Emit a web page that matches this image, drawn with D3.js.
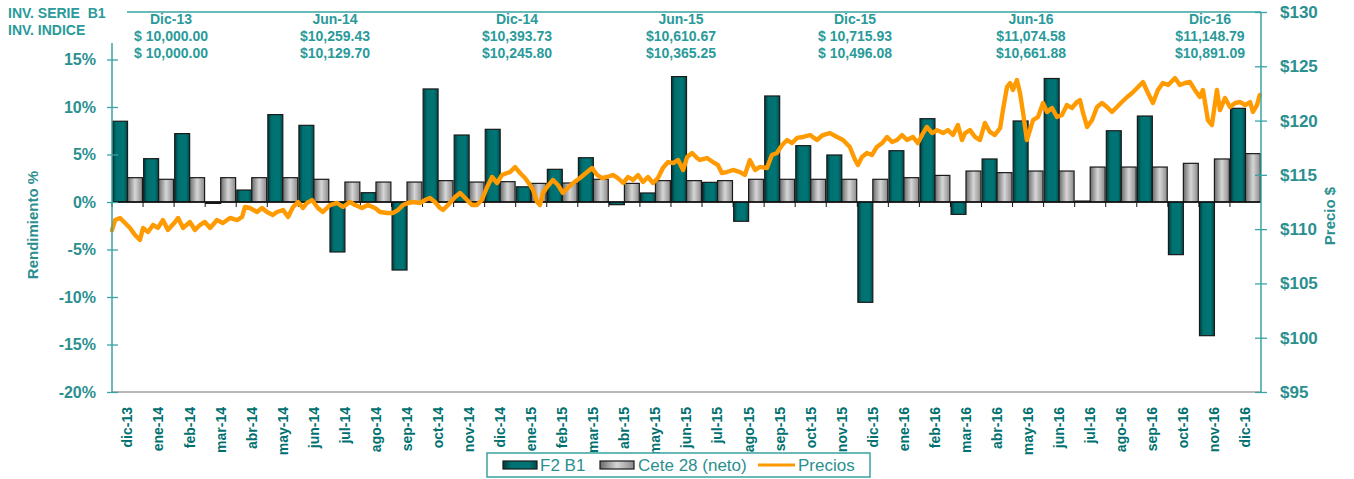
<!DOCTYPE html>
<html>
<head>
<meta charset="utf-8">
<script src="https://cdn.jsdelivr.net/npm/d3@7"></script>
<style>
  html, body { margin: 0; padding: 0; background: #fff; }
  svg { display: block; font-family: "Liberation Sans", Arial, sans-serif; }
</style>
</head>
<body>
<div id="chart"></div>
<script>
// months on the x axis
const categories = ['dic-13', 'ene-14', 'feb-14', 'mar-14', 'abr-14', 'may-14', 'jun-14', 'jul-14',
  'ago-14', 'sep-14', 'oct-14', 'nov-14', 'dic-14', 'ene-15', 'feb-15', 'mar-15', 'abr-15', 'may-15',
  'jun-15', 'jul-15', 'ago-15', 'sep-15', 'oct-15', 'nov-15', 'dic-15', 'ene-16', 'feb-16', 'mar-16',
  'abr-16', 'may-16', 'jun-16', 'jul-16', 'ago-16', 'sep-16', 'oct-16', 'nov-16', 'dic-16'];

// monthly returns, % (left axis)
const f2b1 = [8.5, 4.56, 7.2, -0.15, 1.26, 9.2, 8.07, -5.26, 0.98, -7.16, 11.9, 7.05,
  7.65, 1.6, 3.44, 4.66, -0.28, 0.95, 13.2, 2.07, -2.03, 11.16, 5.93, 4.95,
  -10.56, 5.4, 8.77, -1.3, 4.53, 8.53, 13.0, 0.1, 7.5, 9.05, -5.54, -14.07, 9.86];

const cete28 = [2.56, 2.39, 2.56, 2.56, 2.56, 2.56, 2.39, 2.1, 2.1, 2.1, 2.25, 2.1,
  2.14, 1.96, 2.0, 2.39, 1.96, 2.25, 2.25, 2.25, 2.39, 2.39, 2.39, 2.39,
  2.39, 2.56, 2.8, 3.26, 3.09, 3.26, 3.26, 3.68, 3.68, 3.68, 4.07, 4.53, 5.09];

// price series: [position in months from start, price $] (right axis)
const precios = [[0,109.9],[0.10,110.84],[0.26,111.03],[0.42,110.57],[0.58,110.11],[0.74,109.46],[0.90,109.0],[1.00,110.11],[1.16,109.74],[1.32,110.38],[1.48,110.11],[1.64,110.84],[1.80,109.92],[2.03,110.66],[2.13,111.03],[2.29,110.11],[2.51,110.66],[2.67,109.92],[2.83,110.38],[2.99,110.66],[3.16,110.11],[3.38,110.84],[3.57,110.57],[3.80,111.03],[4.03,110.84],[4.19,111.12],[4.28,112.04],[4.44,111.95],[4.67,111.58],[4.83,111.95],[4.99,111.58],[5.18,111.30],[5.31,111.58],[5.51,111.76],[5.67,111.12],[5.83,112.04],[5.99,112.5],[6.15,111.95],[6.28,112.41],[6.44,112.68],[6.63,111.95],[6.79,111.58],[7.02,112.22],[7.25,112.41],[7.44,112.04],[7.66,112.5],[7.83,112.22],[8.05,111.95],[8.24,112.22],[8.47,111.95],[8.63,111.58],[8.86,111.49],[9.05,111.49],[9.21,111.76],[9.37,112.22],[9.53,112.41],[9.69,112.5],[9.92,112.41],[10.08,112.68],[10.24,112.87],[10.40,112.5],[10.56,111.95],[10.66,111.76],[10.82,112.22],[11.05,112.96],[11.21,113.33],[11.37,112.87],[11.59,112.22],[11.75,112.22],[11.91,112.68],[12.08,113.88],[12.24,114.80],[12.40,114.25],[12.56,114.99],[12.72,115.17],[12.82,115.26],[12.98,115.72],[13.14,115.17],[13.30,114.71],[13.46,114.07],[13.56,113.61],[13.69,112.5],[13.78,112.22],[13.88,113.33],[14.01,113.88],[14.20,114.53],[14.36,114.07],[14.52,113.33],[14.68,113.79],[14.85,114.25],[15.07,114.71],[15.30,115.26],[15.46,115.63],[15.62,114.99],[15.78,114.71],[15.94,114.80],[16.13,114.99],[16.29,114.71],[16.46,114.25],[16.62,114.80],[16.78,114.53],[16.94,114.99],[17.10,114.34],[17.26,114.80],[17.42,114.25],[17.58,114.71],[17.74,115.63],[17.90,116.18],[18.07,116.09],[18.23,116.37],[18.39,115.45],[18.52,116.64],[18.68,117.01],[18.84,116.55],[18.93,116.37],[19.16,116.55],[19.35,116.18],[19.51,115.91],[19.64,115.17],[19.80,115.26],[20.0,115.45],[20.22,115.26],[20.38,114.99],[20.54,116.37],[20.71,115.45],[20.87,115.73],[21.09,115.63],[21.25,116.83],[21.41,117.01],[21.58,117.75],[21.74,118.21],[21.90,117.93],[22.06,118.40],[22.25,118.49],[22.48,118.67],[22.70,118.21],[22.89,118.67],[23.12,118.85],[23.35,118.49],[23.54,118.21],[23.76,117.57],[23.93,116.37],[24.02,115.91],[24.15,116.64],[24.31,117.01],[24.47,116.83],[24.63,117.57],[24.80,117.93],[24.96,118.49],[25.12,118.03],[25.28,118.21],[25.44,118.67],[25.60,118.21],[25.79,118.49],[25.95,117.93],[26.12,118.85],[26.24,119.41],[26.41,118.85],[26.57,119.12],[26.76,118.85],[26.92,119.12],[27.08,118.67],[27.24,119.59],[27.37,118.21],[27.47,118.85],[27.63,119.12],[27.79,118.49],[27.95,118.21],[28.11,119.78],[28.27,118.95],[28.43,118.67],[28.60,119.32],[28.69,120.97],[28.82,123.09],[28.92,123.46],[29.01,122.82],[29.14,123.74],[29.24,122.54],[29.34,120.70],[29.46,118.21],[29.56,119.13],[29.66,120.05],[29.82,120.33],[29.98,121.62],[30.11,120.79],[30.27,121.16],[30.43,120.33],[30.59,120.51],[30.75,121.43],[30.91,121.16],[31.07,121.71],[31.17,121.89],[31.27,120.70],[31.40,119.41],[31.56,120.05],[31.72,121.25],[31.88,121.62],[32.04,121.25],[32.20,120.79],[32.36,121.25],[32.52,121.71],[32.69,122.17],[32.85,122.54],[33.01,123.0],[33.20,123.55],[33.36,122.54],[33.52,121.62],[33.68,122.82],[33.84,123.46],[34.01,123.28],[34.23,123.92],[34.39,123.28],[34.55,123.46],[34.71,123.55],[34.87,122.82],[35.03,122.17],[35.13,122.82],[35.29,120.05],[35.42,119.59],[35.58,122.82],[35.68,120.97],[35.84,122.08],[36.0,121.25],[36.17,121.62],[36.33,121.71],[36.49,121.43],[36.65,121.71],[36.74,120.79],[36.87,121.43],[36.96,122.36]];

// header table
const headerDates = ['Dic-13', 'Jun-14', 'Dic-14', 'Jun-15', 'Dic-15', 'Jun-16', 'Dic-16'];
const headerSerie = ['$ 10,000.00', '$10,259.43', '$10,393.73', '$10,610.67', '$ 10,715.93', '$11,074.58', '$11,148.79'];
const headerIndice = ['$ 10,000.00', '$10,129.70', '$10,245.80', '$10,365.25', '$ 10,496.08', '$10,661.88', '$10,891.09'];

const leftTicks = [-20, -15, -10, -5, 0, 5, 10, 15];
const rightTicks = [95, 100, 105, 110, 115, 120, 125, 130];

(function () {
  const W = 1354, H = 479;
  const plot = { left: 112, right: 1261, top: 12, bottom: 392 };
  const teal = '#007070';
  const labelTeal = '#2b8f8f';
  const headTeal = '#2a9a9a';
  const axisTeal = '#3aa3a3';
  const orange = '#ff9a00';

  const svg = d3.select('#chart').append('svg')
    .attr('width', W).attr('height', H);

  svg.append('rect').attr('width', W).attr('height', H).attr('fill', '#fff');

  const defs = svg.append('defs');
  const gTeal = defs.append('linearGradient').attr('id', 'gTeal').attr('x1', 0).attr('x2', 1).attr('y1', 0).attr('y2', 0);
  gTeal.append('stop').attr('offset', '0%').attr('stop-color', '#003c3c');
  gTeal.append('stop').attr('offset', '25%').attr('stop-color', '#007070');
  gTeal.append('stop').attr('offset', '75%').attr('stop-color', '#007575');
  gTeal.append('stop').attr('offset', '100%').attr('stop-color', '#004a4a');
  const gGray = defs.append('linearGradient').attr('id', 'gGray').attr('x1', 0).attr('x2', 1).attr('y1', 0).attr('y2', 0);
  gGray.append('stop').attr('offset', '0%').attr('stop-color', '#6a6a6a');
  gGray.append('stop').attr('offset', '50%').attr('stop-color', '#d6d6d6');
  gGray.append('stop').attr('offset', '100%').attr('stop-color', '#8a8a8a');

  // scales
  const x = d3.scaleBand().domain(categories).range([plot.left, plot.right]).padding(0);
  const xIn = d3.scaleBand().domain(['f2', 'cete']).range([0, x.bandwidth()]).paddingInner(0).paddingOuter(0.04);
  const yL = d3.scaleLinear().domain([-20, 20]).range([plot.bottom, plot.top]);
  const yR = d3.scaleLinear().domain([95, 130]).range([plot.bottom, plot.top]);
  const xT = d3.scaleLinear().domain([0, categories.length]).range([plot.left, plot.right]);

  // frame lines
  svg.append('line')
    .attr('x1', plot.left).attr('x2', plot.right)
    .attr('y1', plot.bottom).attr('y2', plot.bottom)
    .attr('stroke', '#a0a0a0').attr('stroke-width', 1.5);
  svg.append('line')
    .attr('x1', 127).attr('x2', plot.right)
    .attr('y1', plot.top).attr('y2', plot.top)
    .attr('stroke', axisTeal).attr('stroke-width', 1.5);

  // bars
  const bars = svg.append('g');
  bars.selectAll('rect.f2')
    .data(categories)
    .enter().append('rect')
    .attr('class', 'f2')
    .attr('x', (d) => x(d) + xIn('f2'))
    .attr('width', xIn.bandwidth())
    .attr('y', (d, i) => yL(Math.max(0, f2b1[i])))
    .attr('height', (d, i) => Math.abs(yL(f2b1[i]) - yL(0)))
    .attr('fill', 'url(#gTeal)')
    .attr('stroke', '#1a1a1a').attr('stroke-width', 1.2);

  bars.selectAll('rect.cete')
    .data(categories)
    .enter().append('rect')
    .attr('class', 'cete')
    .attr('x', (d) => x(d) + xIn('cete'))
    .attr('width', xIn.bandwidth())
    .attr('y', (d, i) => yL(Math.max(0, cete28[i])))
    .attr('height', (d, i) => Math.abs(yL(cete28[i]) - yL(0)))
    .attr('fill', 'url(#gGray)')
    .attr('stroke', '#1a1a1a').attr('stroke-width', 1.2);

  // zero line with category ticks
  svg.append('line')
    .attr('x1', plot.left).attr('x2', plot.right)
    .attr('y1', yL(0)).attr('y2', yL(0))
    .attr('stroke', '#111').attr('stroke-width', 1.5);
  svg.append('g').selectAll('line')
    .data(categories)
    .enter().append('line')
    .attr('x1', (d) => x(d)).attr('x2', (d) => x(d))
    .attr('y1', yL(0)).attr('y2', yL(0) + 5)
    .attr('stroke', '#111').attr('stroke-width', 1);

  // price line on top
  const line = d3.line()
    .x((d) => xT(d[0]))
    .y((d) => yR(d[1]))
    .curve(d3.curveLinear);
  svg.append('path')
    .datum(precios)
    .attr('d', line)
    .attr('fill', 'none')
    .attr('stroke', orange)
    .attr('stroke-width', 4.4)
    .attr('stroke-linejoin', 'round')
    .attr('stroke-linecap', 'round');

  // left axis
  svg.append('line')
    .attr('x1', plot.left).attr('x2', plot.left)
    .attr('y1', 43).attr('y2', plot.bottom)
    .attr('stroke', axisTeal).attr('stroke-width', 1.5);
  svg.append('g')
    .attr('transform', `translate(${plot.left},0)`)
    .call(d3.axisLeft(yL).tickValues(leftTicks).tickFormat((d) => d + '%').tickSizeInner(5).tickSizeOuter(0).tickPadding(11))
    .call((g) => g.select('.domain').remove())
    .call((g) => g.selectAll('line').attr('x1', 6).attr('stroke', axisTeal).attr('stroke-width', 1.3))
    .call((g) => g.selectAll('text')
      .attr('fill', labelTeal).attr('font-size', 16).attr('font-weight', 'bold')
      .attr('font-family', '"Liberation Sans", Arial, sans-serif'));

  // right axis
  svg.append('line')
    .attr('x1', plot.right).attr('x2', plot.right)
    .attr('y1', plot.top).attr('y2', plot.bottom)
    .attr('stroke', axisTeal).attr('stroke-width', 1.5);
  svg.append('g')
    .attr('transform', `translate(${plot.right},0)`)
    .call(d3.axisRight(yR).tickValues(rightTicks).tickFormat((d) => '$' + d).tickSizeInner(6).tickSizeOuter(0).tickPadding(13))
    .call((g) => g.select('.domain').remove())
    .call((g) => g.selectAll('line').attr('x1', -6).attr('stroke', axisTeal).attr('stroke-width', 1.3))
    .call((g) => g.selectAll('text')
      .attr('fill', labelTeal).attr('font-size', 17).attr('font-weight', 'bold')
      .attr('font-family', '"Liberation Sans", Arial, sans-serif'));

  // bottom month labels
  svg.append('g')
    .attr('transform', `translate(0,${plot.bottom})`)
    .call(d3.axisBottom(x).tickSize(0))
    .call((g) => g.select('.domain').remove())
    .call((g) => g.selectAll('text')
      .attr('transform', 'rotate(-90)')
      .attr('x', -15).attr('y', 0).attr('dy', '0.35em')
      .attr('text-anchor', 'end')
      .attr('fill', teal).attr('font-size', 14).attr('font-weight', 'bold')
      .attr('font-family', '"Liberation Sans", Arial, sans-serif'));

  // axis titles
  svg.append('text')
    .attr('transform', 'translate(38,225) rotate(-90)')
    .attr('text-anchor', 'middle')
    .attr('fill', labelTeal).attr('font-size', 15).attr('font-weight', 'bold')
    .text('Rendimiento %');
  svg.append('text')
    .attr('transform', 'translate(1335,216) rotate(-90)')
    .attr('text-anchor', 'middle')
    .attr('fill', labelTeal).attr('font-size', 15).attr('font-weight', 'bold')
    .text('Precio $');

  // header table
  svg.append('text').attr('x', 8).attr('y', 18)
    .attr('fill', headTeal).attr('font-size', 14).attr('font-weight', 'bold')
    .attr('xml:space', 'preserve').style('white-space', 'pre')
    .text('INV. SERIE  B1');
  svg.append('text').attr('x', 8).attr('y', 35)
    .attr('fill', headTeal).attr('font-size', 14).attr('font-weight', 'bold')
    .text('INV. INDICE');

  const headerX = [171, 335, 517, 681, 855, 1031, 1210];
  const head = svg.append('g').attr('font-size', 14).attr('font-weight', 'bold')
    .attr('fill', headTeal).attr('text-anchor', 'middle');
  head.selectAll('text.d').data(headerDates).enter().append('text')
    .attr('x', (d, i) => headerX[i]).attr('y', 24).text((d) => d);
  head.selectAll('text.s').data(headerSerie).enter().append('text')
    .attr('x', (d, i) => headerX[i]).attr('y', 41).text((d) => d);
  head.selectAll('text.n').data(headerIndice).enter().append('text')
    .attr('x', (d, i) => headerX[i]).attr('y', 58).text((d) => d);

  // legend
  const lg = svg.append('g').attr('transform', 'translate(487,453)');
  lg.append('rect').attr('width', 383).attr('height', 24)
    .attr('fill', '#fff').attr('stroke', axisTeal).attr('stroke-width', 1.5);
  lg.append('rect').attr('x', 16).attr('y', 8).attr('width', 34).attr('height', 8)
    .attr('fill', 'url(#gTeal)').attr('stroke', '#1a1a1a').attr('stroke-width', 1.2);
  lg.append('text').attr('x', 53).attr('y', 18).text('F2 B1');
  lg.append('rect').attr('x', 113).attr('y', 8).attr('width', 34).attr('height', 8)
    .attr('fill', 'url(#gGray)').attr('stroke', '#1a1a1a').attr('stroke-width', 1.2);
  lg.append('text').attr('x', 151).attr('y', 18).text('Cete 28 (neto)');
  lg.append('line').attr('x1', 271).attr('x2', 308).attr('y1', 12).attr('y2', 12)
    .attr('stroke', orange).attr('stroke-width', 3);
  lg.append('text').attr('x', 311).attr('y', 18).text('Precios');
  lg.selectAll('text').attr('fill', labelTeal).attr('font-size', 17);
})();
</script>
</body>
</html>
